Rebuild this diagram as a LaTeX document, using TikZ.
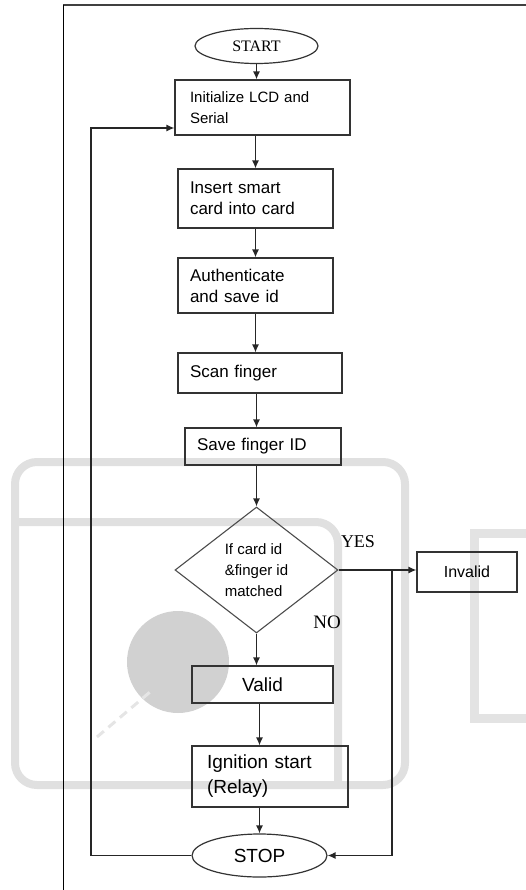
\documentclass[tikz,border=0pt]{standalone}
\usepackage{fontspec}
\setmainfont{Liberation Sans}
\newfontfamily\tmsfont{Liberation Serif}
\usetikzlibrary{arrows.meta, shapes.geometric}

\begin{document}
\begin{tikzpicture}[
  x=1pt, y=-1pt,
  fs/.style={font=\fontsize{#1}{21}\selectfont},
  lbl/.style={font=\tmsfont\fontsize{#1}{#1}\selectfont},
  proc/.style={draw=black!80, line width=1.2pt, inner sep=0pt, inner xsep=12pt, align=left},
  term/.style={ellipse, draw=black!80, line width=1.2pt, inner sep=0pt},
  dec/.style={diamond, draw=black!70, line width=1.1pt, inner sep=0pt, align=left},
  arr/.style={draw=black!85, line width=1.3pt, -{Latex[length=8pt,width=7pt]}},
  wm/.style={draw=black!12, line width=8pt, rounded corners=22pt}
]
  \useasboundingbox (0,0) rectangle (526,890);

  % faint logo behind the chart
  \draw[wm] (15,462) rectangle (405,785);
  \draw[wm] (15,522) -- (338,522) -- (338,785);
  \fill[black!18] (178,662) circle (51pt);
  \draw[black!11, line width=9pt] (526,533) -- (474,533) -- (474,718) -- (526,718);
  \draw[black!10, line width=3pt, dash pattern=on 9pt off 6pt] (97,737) -- (150,692);

  % page frame
  \draw[black!75, line width=1.6pt] (63,5) -- (526,5);
  \draw[black, line width=0.6pt] (63,5) -- (63,890);

  \node[term, lbl=16, minimum width=123pt, minimum height=35pt] (start) at (256.5,46) {START};
  \node[proc, fs=15, text width=145pt, inner xsep=15pt, minimum height=55pt] (init) at (262.5,107.5) {Initialize LCD and\\Serial};
  \node[proc, fs=17, text width=131pt, minimum height=59pt] (insert) at (255.5,198.5) {Insert smart\\card into card};
  \node[proc, fs=17, text width=131pt, minimum height=55pt] (auth) at (255.5,285.5) {Authenticate\\and save id};
  \node[proc, fs=17, text width=140pt, minimum height=40pt] (scan) at (260,373) {Scan finger};
  \node[proc, fs=17, text width=132pt, minimum height=37pt] (save) at (263,446.5) {Save finger ID};
  \node[dec, fs=15, minimum width=163pt, minimum height=126pt] (match) at (256.5,570) {If card id\\\&finger id\\matched};
  \node[proc, fs=16, align=center, inner xsep=0pt, minimum width=100pt, minimum height=40pt] (invalid) at (467,572) {Invalid};
  \node[proc, fs=19, align=center, inner xsep=0pt, minimum width=141pt, minimum height=37pt] (valid) at (262.5,684.5) {Valid};
  \node[proc, font=\fontsize{19}{25}\selectfont, text width=126pt, inner xsep=15pt, minimum height=61pt] (ignite) at (270,776.5) {Ignition start\\(Relay)};
  \node[term, fs=19, minimum width=135pt, minimum height=43pt] (stop) at (259.5,855.5) {STOP};

  \node[lbl=18] (yes) at (358,542) {YES};
  \node[lbl=19] (no) at (327,622) {NO};

  \coordinate (jn) at (392,570);
  \coordinate (back) at (91,128);

  \draw[arr] (start.south) -- (start.south |- init.north);
  \draw[arr] (insert.north |- init.south) -- (insert.north);
  \draw[arr] (insert.south) -- (auth.north);
  \draw[arr] (auth.south) -- (auth.south |- scan.north);
  \draw[arr] (match.north |- scan.south) -- (match.north |- save.north);
  \draw[arr] (match.north |- save.south) -- (match.north);
  \draw[arr] (match.south) -- (match.south |- valid.north);
  \draw[arr] (stop.north |- valid.south) -- (stop.north |- ignite.north);
  \draw[arr] (stop.north |- ignite.south) -- (stop.north);
  \draw[arr] (match.east) -- (match.east -| invalid.west);
  \draw[arr] (jn) |- (stop.east);
  \draw[arr] (stop.west) -| (back) -- (back -| init.west);
\end{tikzpicture}
\end{document}
